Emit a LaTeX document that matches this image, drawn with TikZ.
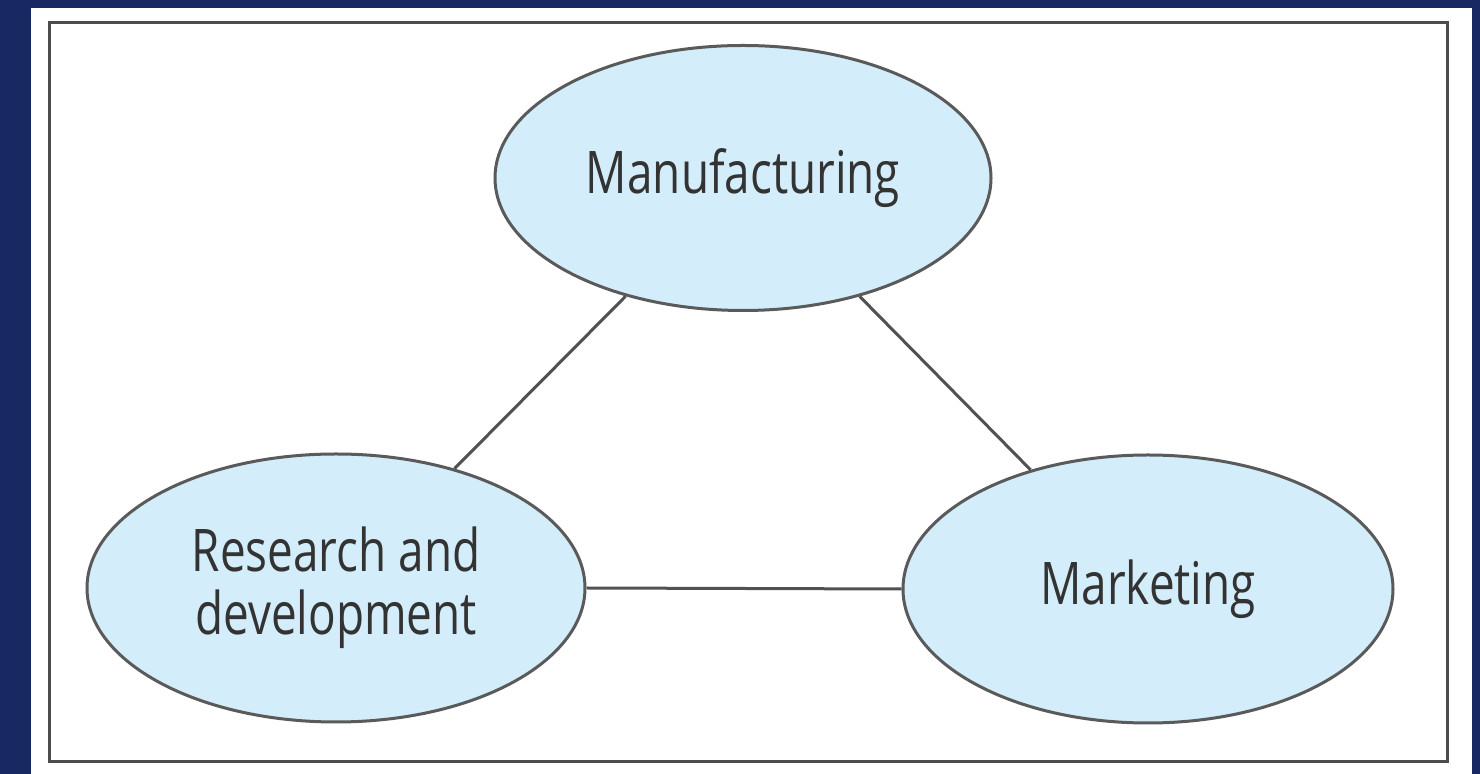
\documentclass[tikz,border=0pt]{standalone}
\usepackage{fontspec}
\setmainfont{Open Sans}[FakeStretch=0.78]
\usetikzlibrary{shapes.geometric}
\definecolor{navy}{HTML}{172863}
\definecolor{ellfill}{HTML}{D3EEFA}
\definecolor{ellline}{HTML}{5A5A5A}
\definecolor{txt}{HTML}{333333}
\tikzset{
  bubble/.style={ellipse, draw=ellline, fill=ellfill, line width=1.5pt, inner sep=0pt,
    text=txt, font=\fontsize{29.4pt}{31.5pt}\selectfont, align=center},
  link/.style={draw=ellline!90!black, line width=1.5pt}
}
\begin{document}
\begin{tikzpicture}[x=0.5pt,y=-0.5pt]
\useasboundingbox (0,0) rectangle (1480,774);
\fill[navy] (0,0) rectangle (1480,774);
\fill[white] (31,8) rectangle (1472,774);
\draw[line width=1.5pt, color=black!70] (49,23) rectangle (1447,762);
\node[bubble, minimum width=248pt, minimum height=132.5pt] (man) at (743,178) {Manufacturing};
\node[bubble, minimum width=249pt, minimum height=134pt] (rd) at (336,588) {Research and\\development};
\node[bubble, minimum width=245pt, minimum height=134pt] (mkt) at (1148,589) {Marketing};
\draw[link] (man) -- (rd);
\draw[link] (man) -- (mkt);
\draw[link] (rd.east) -- (mkt.west);
\end{tikzpicture}
\end{document}
